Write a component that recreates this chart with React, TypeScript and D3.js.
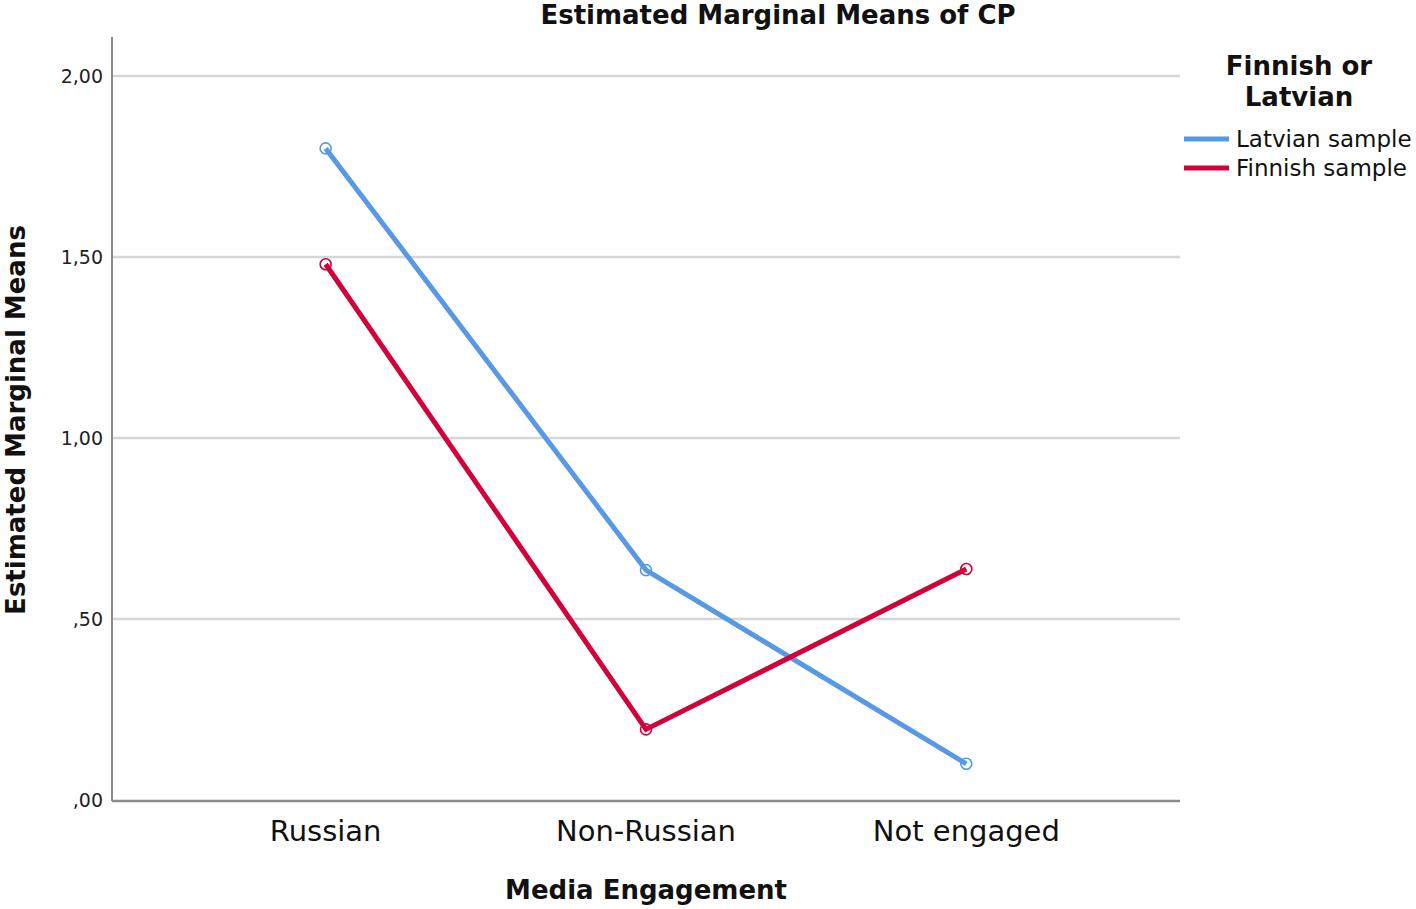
import React from "react";
import * as d3 from "d3";

const categories = ["Russian", "Non-Russian", "Not engaged"];
const latvianValues = [1.80, 0.635, 0.10];
const finnishValues = [1.48, 0.195, 0.638];
const yTicks = [0, 0.5, 1.0, 1.5, 2.0];
const yTickLabels = [",00", ",50", "1,00", "1,50", "2,00"];
const seriesNames = ["Latvian sample", "Finnish sample"];
const seriesColors = ["#5899e6", "#d3003a"];

const W = 1416;
const H = 909;
const FONT = "'DejaVu Sans', Verdana, sans-serif";

export default function App() {
  const x = d3.scalePoint<string>().domain(categories).range([112, 1180]).padding(0.667);
  const y = d3.scaleLinear().domain([0, 2]).range([800, 76]);
  const line = d3
    .line<number>()
    .x((_, i) => x(categories[i]) as number)
    .y((d) => y(d));
  const series = [latvianValues, finnishValues];

  return (
    <svg
      width={W}
      height={H}
      style={{ position: "absolute", left: 0, top: 0, background: "#fff" }}
      fontFamily={FONT}
    >
      {/* gridlines */}
      {yTicks.slice(1).map((t) => (
        <line key={t} x1={112} x2={1180} y1={y(t)} y2={y(t)} stroke="#d6d6d6" strokeWidth={2.5} />
      ))}
      {/* axes */}
      <line x1={112} x2={112} y1={37} y2={801} stroke="#8a8a8a" strokeWidth={2} />
      <line x1={112} x2={1180} y1={801} y2={801} stroke="#8a8a8a" strokeWidth={2.5} />
      {/* y tick labels */}
      {yTicks.map((t, i) => (
        <text key={t} x={103} y={y(t)} dy="0.35em" textAnchor="end" fontSize={19} fill="#222">
          {yTickLabels[i]}
        </text>
      ))}
      {/* x tick labels */}
      {categories.map((c) => (
        <text key={c} x={x(c)} y={841} textAnchor="middle" fontSize={29} fill="#111">
          {c}
        </text>
      ))}
      {/* lines */}
      {series.map((s, si) => (
        <g key={si}>
          <path d={line(s) || ""} fill="none" stroke={seriesColors[si]} strokeWidth={5} />
          {s.map((v, i) => (
            <circle
              key={i}
              cx={x(categories[i])}
              cy={y(v)}
              r={5.5}
              fill="none"
              stroke={seriesColors[si]}
              strokeWidth={1.6}
            />
          ))}
        </g>
      ))}
      {/* title */}
      <text x={778} y={24} textAnchor="middle" fontSize={26} fontWeight="bold" fill="#111">
        Estimated Marginal Means of CP
      </text>
      {/* axis titles */}
      <text x={646} y={899} textAnchor="middle" fontSize={26} fontWeight="bold" fill="#111">
        Media Engagement
      </text>
      <text
        transform={`translate(25,420) rotate(-90)`}
        textAnchor="middle"
        fontSize={26}
        fontWeight="bold"
        fill="#111"
      >
        Estimated Marginal Means
      </text>
      {/* legend */}
      <text x={1299} y={75} textAnchor="middle" fontSize={26} fontWeight="bold" fill="#111">
        Finnish or
      </text>
      <text x={1299} y={106} textAnchor="middle" fontSize={26} fontWeight="bold" fill="#111">
        Latvian
      </text>
      {seriesNames.map((n, i) => (
        <g key={n}>
          <line
            x1={1184}
            x2={1229}
            y1={139 + i * 29}
            y2={139 + i * 29}
            stroke={seriesColors[i]}
            strokeWidth={5}
          />
          <text x={1236} y={139 + i * 29} dy="0.36em" fontSize={23} fill="#111">
            {n}
          </text>
        </g>
      ))}
    </svg>
  );
}
